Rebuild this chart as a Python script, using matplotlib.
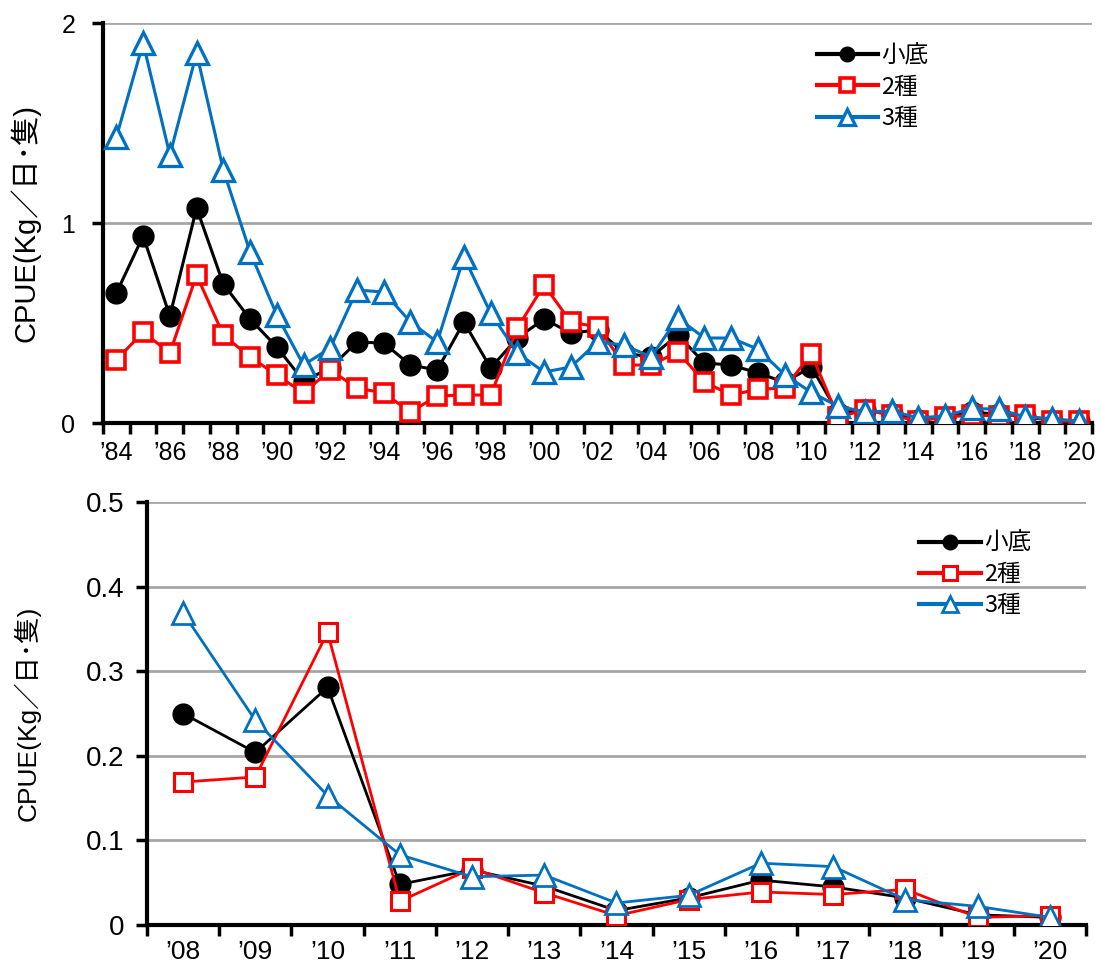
import numpy as np
import matplotlib.pyplot as plt

plt.rcParams['font.family'] = ['Liberation Sans', 'Noto Sans CJK JP', 'DejaVu Sans']

years = list(range(1984, 2021))
# CPUE (kg/day/boat)
kosoko = [0.65, 0.935, 0.535, 1.075, 0.695, 0.52, 0.38, 0.21, 0.275, 0.405,
          0.40, 0.29, 0.265, 0.505, 0.275, 0.425, 0.52, 0.45, 0.465, 0.35,
          0.33, 0.44, 0.30, 0.29, 0.25, 0.204, 0.281, 0.048, 0.065, 0.046,
          0.017, 0.032, 0.053, 0.045, 0.032, 0.012, 0.009]
shu2 = [0.315, 0.455, 0.35, 0.74, 0.44, 0.33, 0.24, 0.15, 0.265, 0.175,
        0.15, 0.055, 0.135, 0.14, 0.14, 0.475, 0.69, 0.505, 0.48, 0.29,
        0.29, 0.355, 0.205, 0.14, 0.169, 0.175, 0.346, 0.028, 0.067, 0.038,
        0.011, 0.030, 0.039, 0.036, 0.042, 0.009, 0.011]
shu3 = [1.43, 1.9, 1.34, 1.85, 1.265, 0.855, 0.54, 0.29, 0.375, 0.665,
        0.655, 0.505, 0.405, 0.83, 0.55, 0.35, 0.255, 0.28, 0.405, 0.39,
        0.33, 0.525, 0.425, 0.425, 0.369, 0.242, 0.153, 0.083, 0.057, 0.059,
        0.026, 0.035, 0.073, 0.069, 0.030, 0.022, 0.009]
names = ['小底', '2種', '3種']

ylabel = 'CPUE(Kg／日･隻)'
blue = '#0070C0'


def label(y):
    return '\u2019' + str(y)[2:]


def draw(ax, yrs, series, ylim, yticks, ytl, xlab_step, lw, ms, mew):
    x = np.arange(len(yrs))
    a, b, c = series
    ax.plot(x, a, color='black', lw=lw, marker='o', ms=ms, label=names[0], zorder=3)
    ax.plot(x, b, color='red', lw=lw, marker='s', ms=ms - 1.5, mfc='white',
            mec='red', mew=mew, label=names[1], zorder=4)
    ax.plot(x, c, color=blue, lw=lw, marker='^', ms=ms + 1, mfc='white',
            mec=blue, mew=mew * 0.9, label=names[2], zorder=5)
    ax.set_xlim(-0.5, len(yrs) - 0.5)
    ax.set_ylim(*ylim)
    ax.set_yticks(yticks)
    ax.set_yticklabels(ytl)
    ax.set_xticks(x[::xlab_step])
    ax.set_xticklabels([label(y) for y in yrs[::xlab_step]])
    ax.set_xticks(np.arange(-0.5, len(yrs)), minor=True)
    ax.tick_params(axis='x', which='minor', length=8, width=2.5, direction='out')
    ax.tick_params(axis='y', length=8, width=2.5, direction='out')
    for s in ['top', 'right']:
        ax.spines[s].set_visible(False)
    for s in ['left', 'bottom']:
        ax.spines[s].set_linewidth(3)
    ax.grid(axis='y', color='#A6A6A6', lw=2)
    ax.set_axisbelow(True)


fig = plt.figure(figsize=(11.02, 9.72), dpi=100)

# 1984-2020
ax1 = fig.add_axes([0.0935, 0.5648, 0.8975, 0.4115])
draw(ax1, years, (kosoko, shu2, shu3), (0, 2), [0, 1, 2], ['0', '1', '2'], 2,
     lw=2.2, ms=15, mew=2.6)
ax1.tick_params(axis='y', labelsize=18, pad=12)
ax1.tick_params(axis='x', which='major', length=0, pad=13, labelsize=18)
ax1.set_ylabel(ylabel, fontsize=21)
ax1.yaxis.set_label_coords(-0.063, 0.5)
leg1 = ax1.legend(loc='upper left', bbox_to_anchor=(0.7, 1.0), frameon=False,
                  handlelength=2.6, handletextpad=0.15, labelspacing=0.35,
                  markerscale=0.7, prop={'family': ['Noto Sans CJK JP'], 'size': 17})
for h in leg1.get_lines():
    h.set_linewidth(3)

# 2008-2020
i0 = years.index(2008)
ax2 = fig.add_axes([0.1334, 0.0484, 0.852, 0.435])
draw(ax2, years[i0:], (kosoko[i0:], shu2[i0:], shu3[i0:]), (0, 0.5),
     [0, 0.1, 0.2, 0.3, 0.4, 0.5], ['0', '0.1', '0.2', '0.3', '0.4', '0.5'], 1,
     lw=2.0, ms=15, mew=2.2)
ax2.tick_params(axis='y', labelsize=20, pad=8)
ax2.tick_params(axis='x', which='major', length=0, pad=11, labelsize=19)
ax2.set_ylabel(ylabel, fontsize=19)
ax2.yaxis.set_label_coords(-0.113, 0.5)
leg2 = ax2.legend(loc='upper left', bbox_to_anchor=(0.8, 0.98), frameon=False,
                  handlelength=2.6, handletextpad=0.15, labelspacing=0.35,
                  markerscale=0.7, prop={'family': ['Noto Sans CJK JP'], 'size': 17})
for h in leg2.get_lines():
    h.set_linewidth(3)

fig.savefig('out.png', dpi=100)
